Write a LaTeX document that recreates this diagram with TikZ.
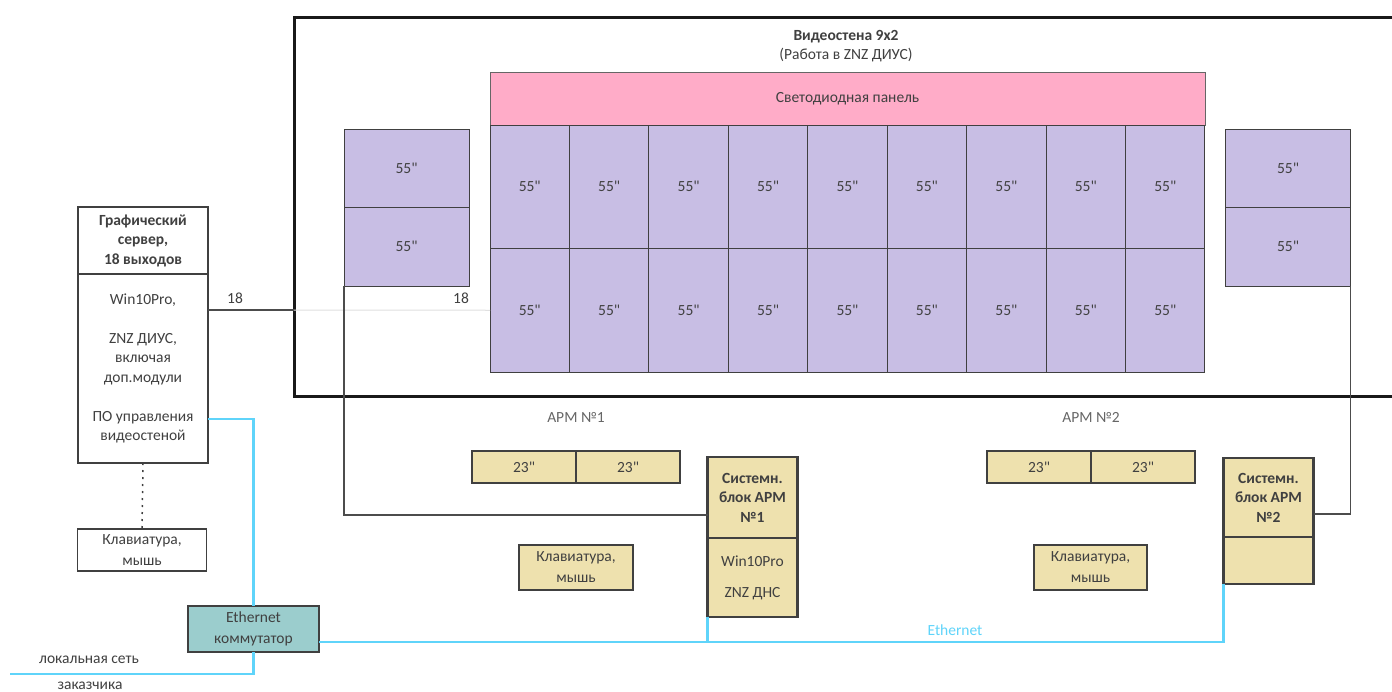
\documentclass[tikz,border=0pt]{standalone}
\usepackage{fontspec}
\newfontfamily\uifont{Carlito}
\usetikzlibrary{positioning}
\definecolor{wallpink}{RGB}{255,172,200}
\definecolor{screenlav}{RGB}{200,190,228}
\definecolor{deskbeige}{RGB}{238,225,174}
\definecolor{switchteal}{RGB}{155,205,205}
\definecolor{lanblue}{RGB}{95,212,250}
\definecolor{inkgrey}{RGB}{64,64,64}
\newcommand\diagfont{\uifont\fontsize{15.5}{19.5}\selectfont}
\tikzset{
  box/.style={rectangle,anchor=north west,inner sep=0pt,outer sep=0pt,align=center,text=inkgrey,font=\diagfont},
  screen/.style={box,draw=black!75,line width=1pt,fill=screenlav},
  desk/.style={box,draw=black!75,line width=1.2pt,fill=deskbeige},
  unit/.style={box,draw=inkgrey,line width=2.5pt,fill=deskbeige},
  note/.style={inner sep=0pt,text=inkgrey,font=\diagfont},
  link/.style={draw=black!70,line width=1.5pt},
  lan/.style={draw=lanblue,line width=2.5pt}
}
\begin{document}
\begin{tikzpicture}[x=1pt,y=-1pt]
    \useasboundingbox[fill=white] (0,0) rectangle (1392,691);
    \draw[line width=3pt,black!90] (1400,17) -| (294,396) -- (1400,396);
    \node[note,align=center] (walltitle) at (846,46) {\textbf{Видеостена 9x2}\\(Работа в ZNZ ДИУС)};
    \node[box,draw=black!60,line width=0.8pt,fill=wallpink,minimum width=715pt,minimum height=53pt] (led) at (490,72) {Светодиодная панель};
    \foreach \i in {1,...,9}{
        \foreach \j in {1,2}{
            \node[screen,minimum width=79.44pt,minimum height=123.5pt] (c-\i-\j) at ({490+(\i-1)*79.44},{125+(\j-1)*123.5}) {55"};
        }
    }
    \node[screen,minimum width=125pt,minimum height=78.5pt] (side-l-1) at (344,129) {55"};
    \node[screen,minimum width=125pt,minimum height=78.5pt] (side-l-2) at (344,207.5) {55"};
    \node[screen,minimum width=125pt,minimum height=78.5pt] (side-r-1) at (1225.5,129) {55"};
    \node[screen,minimum width=125pt,minimum height=78.5pt] (side-r-2) at (1225.5,207.5) {55"};
    \node[box,draw=inkgrey,line width=2.5pt,fill=white,minimum width=130pt,minimum height=67pt,font=\diagfont\bfseries] (srvhead) at (78,207) {Графический\\сервер,\\18 выходов};
    \node[box,draw=inkgrey,line width=2.5pt,fill=white,minimum width=130pt,minimum height=189pt] (srvbody) at (78,274) {Win10Pro,\\[19.5pt]ZNZ ДИУС,\\включая\\доп.модули\\[19.5pt]ПО управления\\видеостеной};
    \node[box,draw=inkgrey,line width=1.2pt,fill=white,minimum width=129pt,minimum height=42pt] (kbd-0) at (77.5,529) {Клавиатура,\\[1.5pt]мышь};
    \node[box,draw=inkgrey,line width=1.2pt,fill=switchteal,minimum width=131pt,minimum height=46pt] (sw) at (188,606) {Ethernet\\[1.5pt]коммутатор};
    \node[note,text=black!60] (arm-1) at (576,417) {АРМ №1};
    \node[desk,minimum width=104pt,minimum height=32pt] (mon-1-a) at (472,451) {23"};
    \node[desk,minimum width=104pt,minimum height=32pt,right=0pt of mon-1-a] (mon-1-b) {23"};
    \node[desk,minimum width=114pt,minimum height=45pt] (kbd-1) at (519,545) {Клавиатура,\\[1.5pt]мышь};
    \node[unit,minimum width=90pt,minimum height=81pt,font=\diagfont\bfseries] (su1head) at (707.5,457) {Системн.\\блок АРМ\\№1};
    \node[unit,minimum width=90pt,minimum height=79pt] (su1body) at (707.5,538) {Win10Pro\\[11.5pt]ZNZ ДНС};
    \node[note,text=black!60] (arm-2) at (1091,417) {АРМ №2};
    \node[desk,minimum width=104pt,minimum height=32pt] (mon-2-a) at (987,451) {23"};
    \node[desk,minimum width=104pt,minimum height=32pt,right=0pt of mon-2-a] (mon-2-b) {23"};
    \node[desk,minimum width=113pt,minimum height=45pt] (kbd-2) at (1034,545) {Клавиатура,\\[1.5pt]мышь};
    \node[unit,minimum width=90pt,minimum height=79pt,font=\diagfont\bfseries] (su2head) at (1223.5,458) {Системн.\\блок АРМ\\№2};
    \node[unit,minimum width=90pt,minimum height=47pt] (su2body) at (1223.5,537) {};
    \coordinate (wallport) at (294,310);
    \draw[link] (srvbody.east |- wallport) -- (wallport);
    \draw[draw=black!12,line width=1pt] (wallport) -- (c-1-2.west);
    \node[note] (n18-a) at (235,298) {18};
    \node[note] (n18-b) at (461,298) {18};
    \draw[link] (side-l-2.south west) |- ([yshift=23pt]su1head.south west);
    \draw[link] (side-r-2.south east) |- ([yshift=23pt]su2head.south east);
    \draw[inkgrey,line width=1.5pt,dash pattern=on 2pt off 5pt] (srvbody.south) -- (kbd-0.north);
    \draw[lan] ([yshift=44pt]srvbody.south east) -| (sw.north);
    \coordinate (lanend) at (10,674);
    \draw[lan] (sw.south) |- (lanend);
    \coordinate (ethbus) at ([yshift=10pt]sw.south east);
    \draw[lan] (ethbus) -| (su2body.south west);
    \draw[lan] (su1body.south west) -- (su1body.south west |- ethbus);
    \node[note] (lan-1) at (89,660) {локальная сеть};
    \node[note] (lan-2) at (90,686) {заказчика};
    \node[note,text=lanblue] (eth) at (955,630) {Ethernet};
\end{tikzpicture}
\end{document}
